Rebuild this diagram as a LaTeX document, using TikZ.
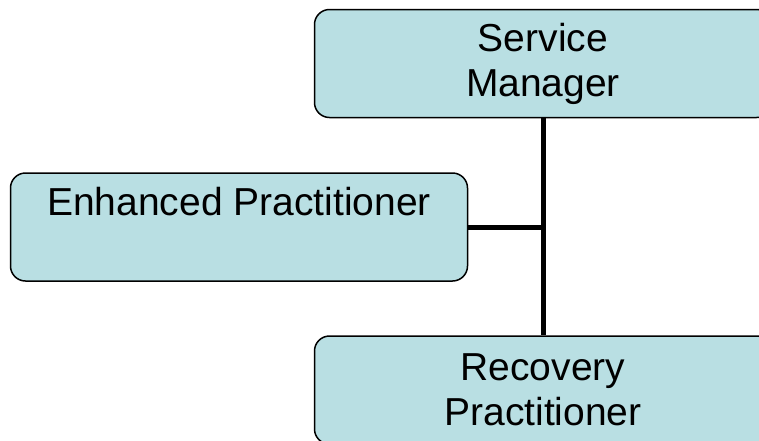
\documentclass[tikz,border=0pt]{standalone}
\usepackage{fontspec}
\setmainfont{Liberation Sans}
\definecolor{boxfill}{RGB}{185,223,227}

\begin{document}
\begin{tikzpicture}[x=1pt, y=-1pt,
        role/.style={draw=black, line width=1.5pt, fill=boxfill, rounded corners=15pt,
            minimum width=457pt, minimum height=108pt, inner sep=0pt, align=center,
            font=\fontsize{39}{45}\selectfont},
        link/.style={line width=5pt}]
        \useasboundingbox (0, 0) rectangle (759, 440);

        \node[role] (manager) at (543, 63.5) {Service\\Manager};
        \node[role] (enhanced) at (239, 227) {Enhanced Practitioner\\[7pt]~};
        \node[role] (recovery) at (543, 390) {Recovery\\Practitioner};

        \draw[link] (manager.south) -- (recovery.north);
        \draw[link] (enhanced.east) -- (manager.south |- enhanced.east);
    \end{tikzpicture}
\end{document}
